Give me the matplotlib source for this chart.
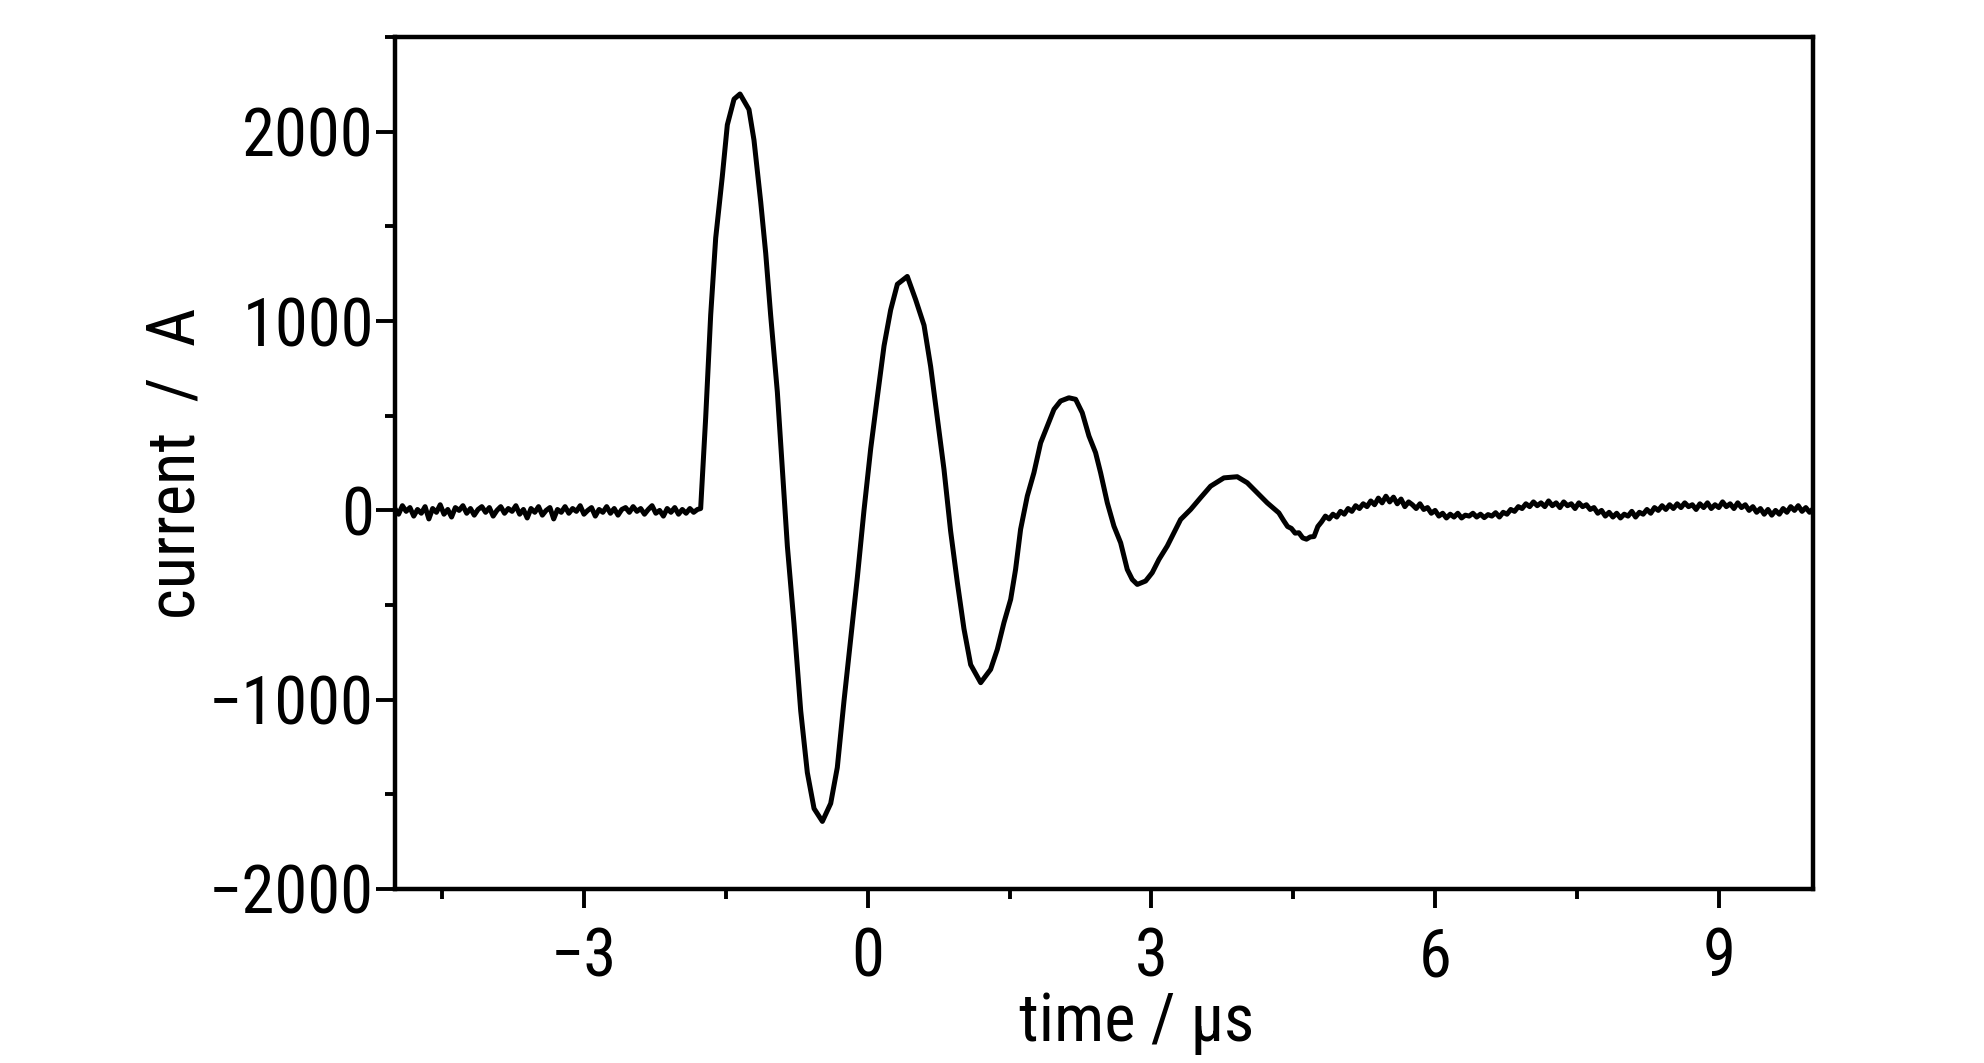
import numpy as np
import matplotlib
matplotlib.use("Agg")
from matplotlib import pyplot as plt
from matplotlib import font_manager
from matplotlib.ticker import MultipleLocator

# prefer a narrow sans face if one is installed
names = set(f.name for f in font_manager.fontManager.ttflist)
narrow = [f.name for f in font_manager.fontManager.ttflist
          if f.stretch in ('condensed', 'semi-condensed', 'extra-condensed', 550, 600, 650)
          or 'Narrow' in f.name or 'Condensed' in f.name]
families = []
for n in ['Liberation Sans Narrow', 'Roboto Condensed', 'Open Sans Condensed'] + narrow:
    if n in names and n not in families:
        families.append(n)
families += ['Liberation Sans', 'DejaVu Sans']
plt.rcParams['font.family'] = families

# baseline before the pulse (sampled every 0.04 us, -5.00 ... -1.80)
baseline_i = [10, -20, 25, -5, 15, -30, 5, -15, 20, -45,
              10, -10, 30, -20, 5, -35, 15, 0, 25, -15,
              10, -25, 5, 20, -10, 15, -30, 0, 20, -15,
              10, -5, 25, -20, 5, -40, 10, -10, 20, -25,
              0, 15, -45, 5, -10, 20, -15, 10, -5, 25,
              -20, 0, 15, -30, 5, -10, 20, -15, 10, -25,
              5, 15, -10, 20, -5, 10, -20, 5, 25, -15,
              0, -30, 10, -10, 15, -20, 5, -15, 10, -10, 5]
baseline_t = np.linspace(-5.0, -1.80, len(baseline_i))

# damped oscillation
pulse_t = [-1.766, -1.713, -1.660, -1.607, -1.537, -1.484, -1.413, -1.350,
           -1.255, -1.202, -1.131, -1.078, -1.026, -0.955, -0.902, -0.849,
           -0.779, -0.708, -0.638, -0.567, -0.479, -0.391, -0.321, -0.250,
           -0.180, -0.109, -0.039, 0.032, 0.102, 0.173, 0.243, 0.314,
           0.419, 0.507, 0.596, 0.666, 0.736, 0.807, 0.877, 0.948,
           1.018, 1.089, 1.195, 1.300, 1.371, 1.441, 1.512, 1.564,
           1.617, 1.688, 1.758, 1.829, 1.899, 1.970, 2.040, 2.128,
           2.199, 2.269, 2.340, 2.410, 2.463, 2.534, 2.604, 2.675,
           2.745, 2.798, 2.851, 2.939, 3.009, 3.080, 3.168, 3.238,
           3.309, 3.415, 3.520, 3.626, 3.767, 3.908, 4.014, 4.119,
           4.225, 4.348]
pulse_i = [10, 489, 1032, 1439, 1765, 2037, 2173, 2200,
           2118, 1956, 1630, 1358, 1032, 625, 217, -190,
           -598, -1059, -1385, -1575, -1643, -1548, -1358, -1005,
           -679, -353, 0, 326, 598, 869, 1059, 1195,
           1236, 1114, 978, 760, 489, 217, -109, -380,
           -625, -815, -910, -840, -734, -593, -470, -312,
           -100, 76, 199, 357, 445, 534, 578, 595,
           587, 516, 393, 305, 199, 40, -83, -171,
           -312, -365, -391, -373, -329, -259, -188, -118,
           -48, 5, 67, 128, 172, 178, 146, 93,
           40, -13]

# tail after the pulse (sampled every 0.04 us, 4.40 ... 10.00)
tail_i = [-55, -85, -95, -120, -118, -145, -152, -140, -138, -85,
          -60, -30, -45, -20, -35, -5, -20, 10, -5, 25,
          10, 35, 20, 50, 30, 65, 40, 75, 45, 70,
          35, 60, 20, 45, 30, 10, 35, 5, 15, -15,
          0, -30, -15, -40, -20, -35, -15, -40, -25, -30,
          -15, -35, -20, -38, -22, -30, -12, -35, -10, -20,
          5, -5, 20, 10, 35, 20, 45, 25, 40, 20,
          50, 25, 40, 15, 45, 25, 35, 10, 40, 20,
          30, 5, 15, -15, 0, -30, -10, -35, -15, -40,
          -20, -30, -5, -35, -10, -20, 5, -15, 15, 0,
          25, 5, 30, 10, 35, 15, 40, 20, 30, 5,
          35, 15, 40, 10, 30, 15, 45, 20, 35, 10,
          40, 15, 30, 0, 20, -10, 10, -20, 5, -25,
          0, -20, 10, -10, 20, 0, 25, -5, 15, -10, 10]
tail_t = np.linspace(4.40, 10.0, len(tail_i))

t = np.concatenate([baseline_t, pulse_t, tail_t])
current = np.concatenate([baseline_i, pulse_i, tail_i])

narrow_ok = families[0] not in ('Liberation Sans', 'DejaVu Sans')
fs = 48 if narrow_ok else 42

fig = plt.figure(figsize=(19.84, 10.63), dpi=100)
ax = fig.add_axes([0.199, 0.1637, 0.715, 0.8013])

ax.plot(t, current, color='black', lw=3.6, solid_joinstyle='round')

ax.set_xlim(-5, 10)
ax.set_ylim(-2000, 2500)
ax.xaxis.set_major_locator(MultipleLocator(3))
ax.xaxis.set_minor_locator(MultipleLocator(1.5))
ax.yaxis.set_major_locator(MultipleLocator(1000))
ax.yaxis.set_minor_locator(MultipleLocator(500))

for s in ax.spines.values():
    s.set_linewidth(3.2)

ax.tick_params(which='both', direction='out', top=False, right=False, width=2.8)
ax.tick_params(which='major', length=14, labelsize=fs)
ax.tick_params(which='minor', length=7)
ax.tick_params(axis='x', which='major', pad=13)
ax.tick_params(axis='y', which='major', pad=1)

ax.set_xlabel('time / μs', fontsize=fs)
ax.set_ylabel('current  /  A', fontsize=fs)
ax.xaxis.set_label_coords(0.523, -0.12)
ax.yaxis.set_label_coords(-0.131, 0.5)

fig.savefig('out.png', dpi=100)
